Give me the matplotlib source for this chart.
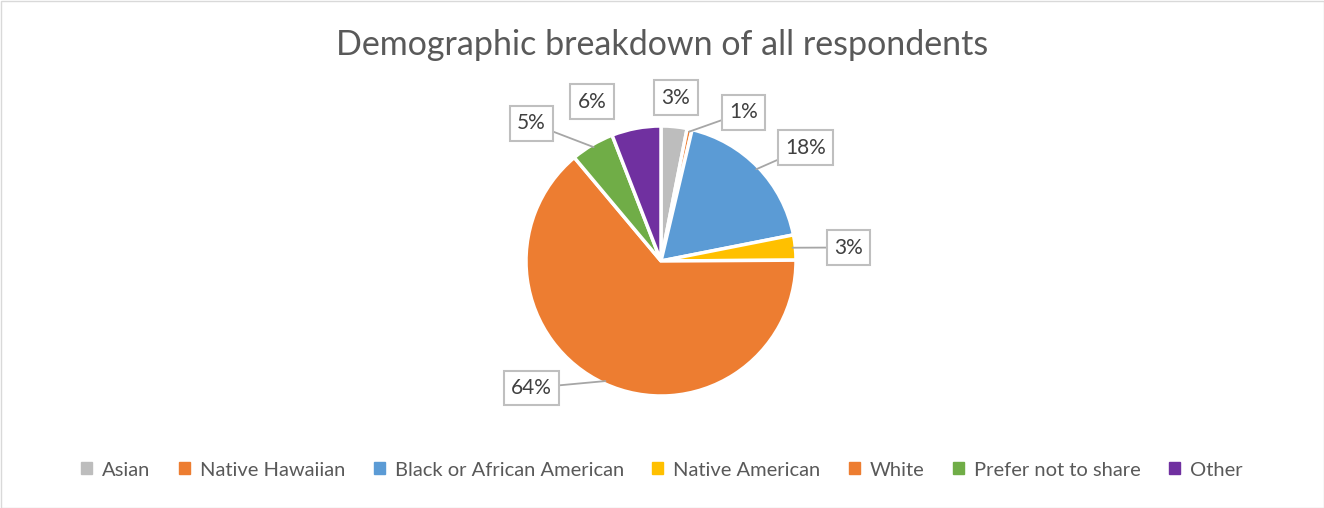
import numpy as np
import matplotlib.pyplot as plt
from matplotlib.patches import Rectangle

# Данные
categories = ['Asian', 'Native Hawaiian', 'Black or African American', 'Native American',
              'White', 'Prefer not to share', 'Other']
shares = [3.1, 0.6, 18.2, 3.0, 64.0, 5.2, 5.9]
labels = ['3%', '1%', '18%', '3%', '64%', '5%', '6%']
colors = ['#BDBDBD', '#ED7D31', '#5B9BD5', '#FFC000', '#ED7D31', '#70AD47', '#7030A0']

# положение подписей (в радиусах круга) и нужна ли выноска
label_pos = [(0.11, 1.21), (0.61, 1.10), (1.07, 0.84), (1.39, 0.10),
             (-0.96, -0.94), (-0.96, 1.02), (-0.51, 1.18)]
leader = [False, True, True, True, True, True, False]

W, H = 1324, 508
cx, cy, R = 661, 261, 135

plt.rcParams['font.family'] = ['Lato', 'DejaVu Sans']

fig = plt.figure(figsize=(W / 100, H / 100), dpi=100)
ax = fig.add_axes([0, 0, 1, 1])

wedges, _ = ax.pie(shares, colors=colors, startangle=90, counterclock=False, radius=1,
                   wedgeprops=dict(edgecolor='white', linewidth=2.5))
ax.set_xlim(-cx / R, (W - cx) / R)
ax.set_ylim(-(H - cy) / R, cy / R)
ax.set_aspect('equal')
ax.axis('off')

for w, lab, pos, ld in zip(wedges, labels, label_pos, leader):
    mid = np.deg2rad((w.theta1 + w.theta2) / 2)
    edge = (np.cos(mid) * 0.98, np.sin(mid) * 0.98)
    ax.annotate(lab, xy=edge, xytext=pos, ha='center', va='center',
                fontsize=15, color='#404040',
                bbox=dict(boxstyle='square,pad=0.35', fc='white', ec='#BFBFBF', lw=1.5),
                arrowprops=dict(arrowstyle='-', color='#A6A6A6', lw=1.3,
                                shrinkA=0, shrinkB=0) if ld else None)

fig.text(0.5, 1 - 45 / H, 'Demographic breakdown of all respondents',
         ha='center', va='center', fontsize=24.5, color='#595959')

handles = [Rectangle((0, 0), 1, 1, color=c) for c in colors]
fig.legend(handles, categories, loc='center', bbox_to_anchor=(0.5, 1 - 470 / H),
           ncol=len(categories), frameon=False, fontsize=14.5, labelcolor='#595959',
           handlelength=0.55, handleheight=0.55, handletextpad=0.5, columnspacing=1.4)

fig.patches.append(Rectangle((0.5 / W, 0.5 / H), 1 - 1 / W, 1 - 1 / H, transform=fig.transFigure,
                             fill=False, ec='#D9D9D9', lw=1))

fig.savefig('out.png', dpi=100)
